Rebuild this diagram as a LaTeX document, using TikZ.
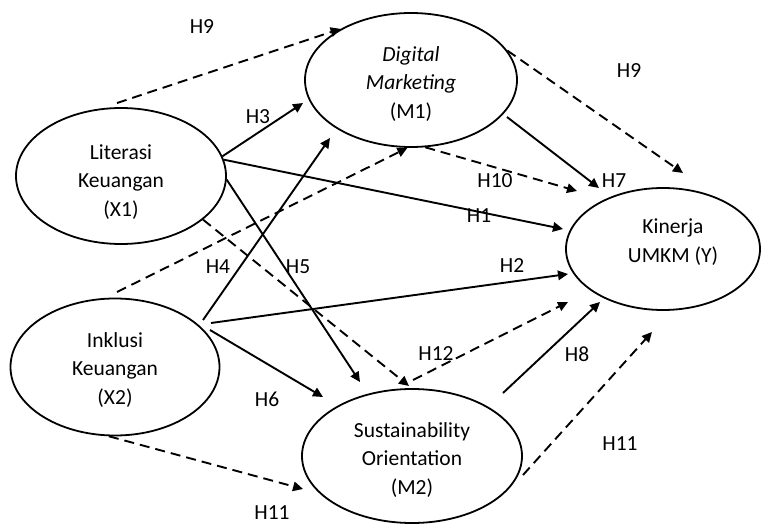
\documentclass[tikz,border=0pt]{standalone}
\usepackage{fontspec}
\setmainfont{Carlito}
\usetikzlibrary{arrows.meta,shapes.geometric}

\begin{document}
\begin{tikzpicture}[x=1pt,y=-1pt,
  construct/.style={draw,ellipse,line width=1.8pt,inner sep=0pt},
  caption/.style={align=center,font=\fontsize{21.5}{28.5}\selectfont,inner sep=0pt},
  hyp/.style={font=\fontsize{21.5}{25}\selectfont,inner sep=0pt},
  direct/.style={line width=1.9pt,-{Triangle[length=10pt,width=9.5pt]}},
  indirect/.style={direct,dash pattern=on 10pt off 6pt},
]
\useasboundingbox (0,0) rectangle (761,524);

% constructs
\node[construct,minimum width=210pt,minimum height=136pt] (X1) at (121,176) {};
\node[construct,minimum width=212pt,minimum height=134pt] (M1) at (411,80) {};
\node[construct,minimum width=194pt,minimum height=122pt] (Y)  at (663,249) {};
\node[construct,minimum width=209pt,minimum height=137pt] (X2) at (115,367) {};
\node[construct,minimum width=220pt,minimum height=134pt] (M2) at (412,456) {};

% construct names
\node[caption] (X1t) at (121,182) {Literasi\\Keuangan\\(X1)};
\node[caption] (M1t) at (411,84) {\textit{Digital}\\\textit{Marketing}\\(M1)};
\node[caption] (Yt)  at (673,242) {Kinerja\\UMKM (Y)};
\node[caption] (X2t) at (115,370) {Inklusi\\Keuangan\\(X2)};
\node[caption] (M2t) at (412,460) {Sustainability\\Orientation\\(M2)};

% free path ends
\coordinate (x1top)   at (117,103);
\coordinate (m1tip)   at (303,103);
\coordinate (m1tipb)  at (330,138);
\coordinate (ytopl)   at (683,173);
\coordinate (yH1)     at (563,229);
\coordinate (yH10)    at (577,191);
\coordinate (yH7)     at (599,188);
\coordinate (yH2)     at (568,274);
\coordinate (yH12)    at (568,302);
\coordinate (yH8)     at (600,302);
\coordinate (yH11)    at (652,332);
\coordinate (m2H5)    at (360,382);
\coordinate (m2top)   at (409,386);
\coordinate (m2topo)  at (413,380);
\coordinate (m2H6)    at (323,397);
\coordinate (m2left)  at (303,489);
\coordinate (m1out)   at (507,117);
\coordinate (m2out)   at (503,393);
\coordinate (m2right) at (523,475);
\coordinate (x2top)   at (117,292);
\coordinate (x2H4)    at (203,320);
\coordinate (x2H2)    at (211,323);
\coordinate (x2H6)    at (210,330);

% direct effects
\draw[direct] (X1.11) -- (m1tip);
\draw[direct] (X1.9) -- (yH1);
\draw[direct] (X1.-2) -- (m2H5);
\draw[direct] (x2H4) -- (m1tipb);
\draw[direct] (x2H2) -- (yH2);
\draw[direct] (x2H6) -- (m2H6);
\draw[direct] (m1out) -- (yH7);
\draw[direct] (m2out) -- (yH8);

% mediated effects
\draw[indirect] (x1top) -- (M1.144);
\draw[indirect] (M1.17) -- (ytopl);
\draw[indirect] (x2top) -- (M1.-93);
\draw[indirect] (M1.-78) -- (yH10);
\draw[indirect] (X1.-28) -- (m2top);
\draw[indirect] (m2topo) -- (yH12);
\draw[indirect] (X2.-95) -- (m2left);
\draw[indirect] (m2right) -- (yH11);

% hypothesis labels
\node[hyp] (h9a)  at (202,27)  {H9};
\node[hyp] (h9b)  at (629,71)  {H9};
\node[hyp] (h3)   at (258,117) {H3};
\node[hyp] (h10)  at (495,181) {H10};
\node[hyp] (h7)   at (614,181) {H7};
\node[hyp] (h1)   at (479,216) {H1};
\node[hyp] (h4)   at (218,267) {H4};
\node[hyp] (h5)   at (298,267) {H5};
\node[hyp] (h2)   at (512,266) {H2};
\node[hyp] (h12)  at (436,354) {H12};
\node[hyp] (h8)   at (577,354) {H8};
\node[hyp] (h6)   at (267,399) {H6};
\node[hyp] (h11a) at (620,444) {H11};
\node[hyp] (h11b) at (272,513) {H11};
\end{tikzpicture}
\end{document}
